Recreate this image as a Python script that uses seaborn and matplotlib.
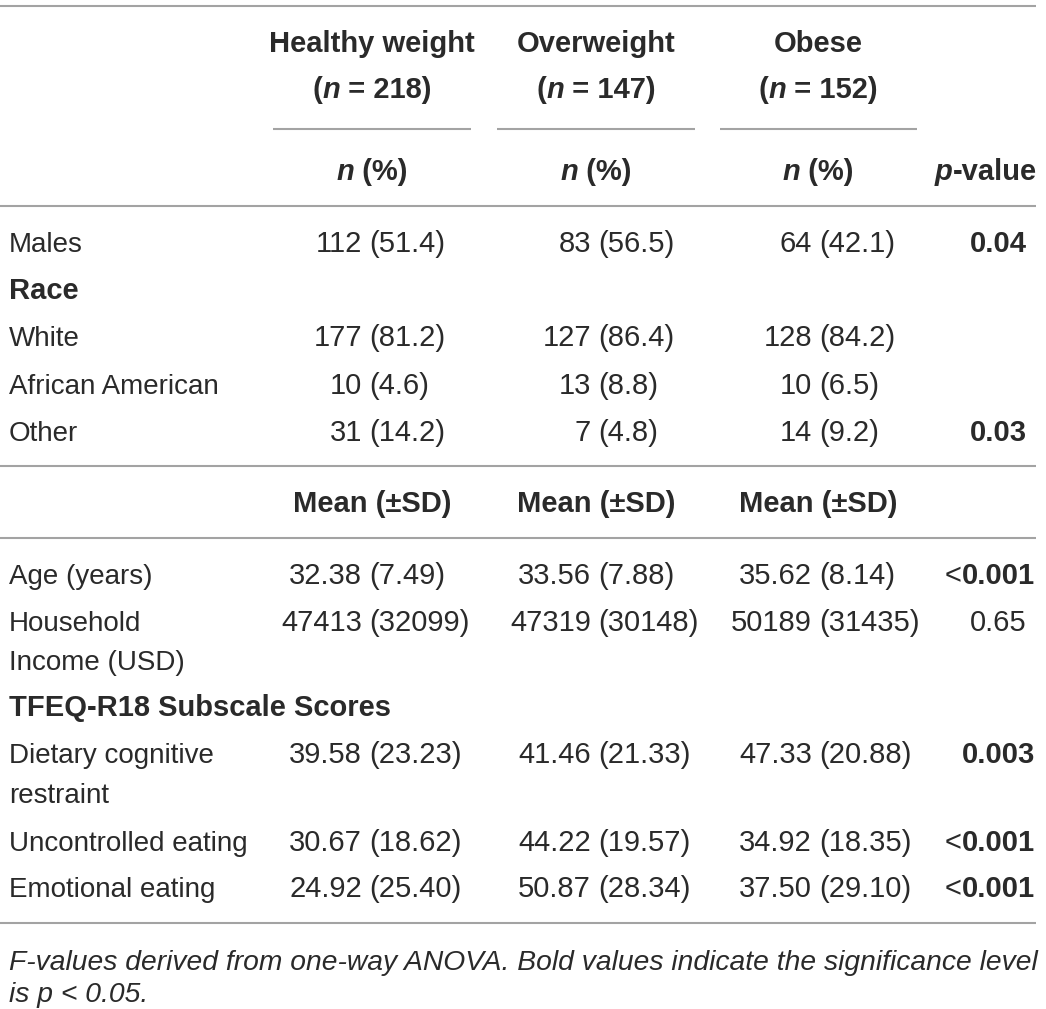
"""
Table: participant characteristics by weight group, drawn with matplotlib/seaborn.
"""
import matplotlib
matplotlib.use("Agg")
import matplotlib.pyplot as plt
import seaborn as sns

# ── Data ──────────────────────────────────────────────────────────────────────
groups     = ["Healthy weight", "Overweight", "Obese"]
group_n    = [218, 147, 152]

males_n    = [112, 83, 64]
males_pct  = [51.4, 56.5, 42.1]
males_p    = "0.04"

race_labels = ["White", "African American", "Other"]
race_n      = [[177, 127, 128], [10, 13, 10], [31, 7, 14]]
race_pct    = [[81.2, 86.4, 84.2], [4.6, 8.8, 6.5], [14.2, 4.8, 9.2]]
race_p      = ["", "", "0.03"]

age_mean    = [32.38, 33.56, 35.62]
age_sd      = [7.49, 7.88, 8.14]
age_p       = "<0.001"

income_mean = [47413, 47319, 50189]
income_sd   = [32099, 30148, 31435]
income_p    = "0.65"

tfeq_labels = [["Dietary cognitive", "restraint"], ["Uncontrolled eating"], ["Emotional eating"]]
tfeq_mean   = [[39.58, 41.46, 47.33], [30.67, 44.22, 34.92], [24.92, 50.87, 37.50]]
tfeq_sd     = [[23.23, 21.33, 20.88], [18.62, 19.57, 18.35], [25.40, 28.34, 29.10]]
tfeq_p      = ["0.003", "<0.001", "<0.001"]

footnote = ["F-values derived from one-way ANOVA. Bold values indicate the significance level",
            "is p < 0.05."]

# ── Style / layout ────────────────────────────────────────────────────────────
W, H   = 1046, 1009
FS     = 20          # row labels
FS_V   = 21          # values
FS_B   = 21          # bold headers
TXT    = "#2a2a2a"
LINE   = "#a3a3a3"
LX     = 9                      # row label x
COL_C  = [372, 596, 818]        # group column centres
SPLIT  = [369, 598, 819]        # x of "(" in value cells
GAP    = 7
P_C, P_R = 998, 1035
SHORT  = [(273, 471), (497, 695), (720, 917)]

sns.set_theme(style="white")
plt.rcParams["font.family"] = ["Liberation Sans", "DejaVu Sans"]

fig = plt.figure(figsize=(W / 100, H / 100), dpi=100)
ax = fig.add_axes([0, 0, 1, 1])
ax.set_xlim(0, W)
ax.set_ylim(H, 0)
ax.axis("off")
fig.canvas.draw()
R = fig.canvas.get_renderer()


def width(s, **kw):
    t = ax.text(0, 0, s, **kw)
    w = t.get_window_extent(renderer=R).width
    t.remove()
    return w


def rich(x, y, parts, ha="left", size=FS_B):
    kws = [dict(fontsize=size, fontweight=w, fontstyle=st) for _, w, st in parts]
    ws = [width(s, **k) for (s, _, _), k in zip(parts, kws)]
    tot = sum(ws)
    x0 = {"left": x, "center": x - tot / 2, "right": x - tot}[ha]
    for (s, _, _), k, wd in zip(parts, kws, ws):
        ax.text(x0, y, s, va="baseline", ha="left", color=TXT, **k)
        x0 += wd


def label(y, s, bold=False):
    ax.text(LX, y, s, fontsize=FS_B if bold else FS,
            fontweight="bold" if bold else "normal",
            va="baseline", ha="left", color=TXT)


def cell(i, y, left, right):
    ax.text(SPLIT[i] - GAP, y, left, fontsize=FS_V, va="baseline", ha="right", color=TXT)
    ax.text(SPLIT[i], y, right, fontsize=FS_V, va="baseline", ha="left", color=TXT)


def pval(y, s, bold=True):
    if not s:
        return
    if s.startswith("<"):
        rich(P_R, y, [("<", "normal", "normal"), (s[1:], "bold", "normal")],
             ha="right", size=FS_V)
    elif len(s) > 4:
        ax.text(P_R, y, s, fontsize=FS_V, fontweight="bold", va="baseline",
                ha="right", color=TXT)
    else:
        ax.text(P_C, y, s, fontsize=FS_V, fontweight="bold" if bold else "normal",
                va="baseline", ha="center", color=TXT)


# ── Rules ─────────────────────────────────────────────────────────────────────
for y in [6, 206, 466, 538, 923]:
    ax.hlines(y, 0, 1036, color=LINE, linewidth=1.5)
for x0, x1 in SHORT:
    ax.hlines(129, x0, x1, color=LINE, linewidth=1.5)

# ── Header ────────────────────────────────────────────────────────────────────
for i, g in enumerate(groups):
    ax.text(COL_C[i], 52, g, fontsize=FS_B, fontweight="bold", ha="center",
            va="baseline", color=TXT)
    rich(COL_C[i], 98, [("(", "bold", "normal"), ("n", "bold", "italic"),
                        (f" = {group_n[i]})", "bold", "normal")], ha="center")
    rich(COL_C[i], 180, [("n", "bold", "italic"), (" (%)", "bold", "normal")], ha="center")
rich(1037, 180, [("p", "bold", "italic"), ("-value", "bold", "normal")], ha="right")

# ── Counts ────────────────────────────────────────────────────────────────────
label(252, "Males")
for i in range(3):
    cell(i, 252, f"{males_n[i]}", f"({males_pct[i]:.1f})")
pval(252, males_p)

label(299, "Race", bold=True)
for r, (lab, ys) in enumerate(zip(race_labels, [346, 394, 441])):
    label(ys, lab)
    for i in range(3):
        cell(i, ys, f"{race_n[r][i]}", f"({race_pct[r][i]:.1f})")
    pval(ys, race_p[r])

# ── Means ─────────────────────────────────────────────────────────────────────
for i in range(3):
    ax.text(COL_C[i], 512, "Mean (±SD)", fontsize=FS_B, fontweight="bold",
            ha="center", va="baseline", color=TXT)

label(584, "Age (years)")
for i in range(3):
    cell(i, 584, f"{age_mean[i]:.2f}", f"({age_sd[i]:.2f})")
pval(584, age_p)

label(631, "Household")
label(670, "Income (USD)")
for i in range(3):
    cell(i, 631, f"{income_mean[i]}", f"({income_sd[i]})")
pval(631, income_p, bold=False)

label(716, "TFEQ-R18 Subscale Scores", bold=True)
for r, ys in enumerate([763, 851, 897]):
    for k, line in enumerate(tfeq_labels[r]):
        label(ys + 40 * k, line)
    for i in range(3):
        cell(i, ys, f"{tfeq_mean[r][i]:.2f}", f"({tfeq_sd[r][i]:.2f})")
    pval(ys, tfeq_p[r])

# ── Footnote ──────────────────────────────────────────────────────────────────
fn_family = ["Liberation Sans", "DejaVu Sans"]
fn_size = FS * 1027 / width(footnote[0], fontsize=FS, fontstyle="italic", family=fn_family)
for y, s in zip([970, 1002], footnote):
    ax.text(LX, y, s, fontsize=fn_size, fontstyle="italic", family=fn_family,
            va="baseline", ha="left", color=TXT)

fig.savefig("out.png", dpi=100)
plt.close(fig)
